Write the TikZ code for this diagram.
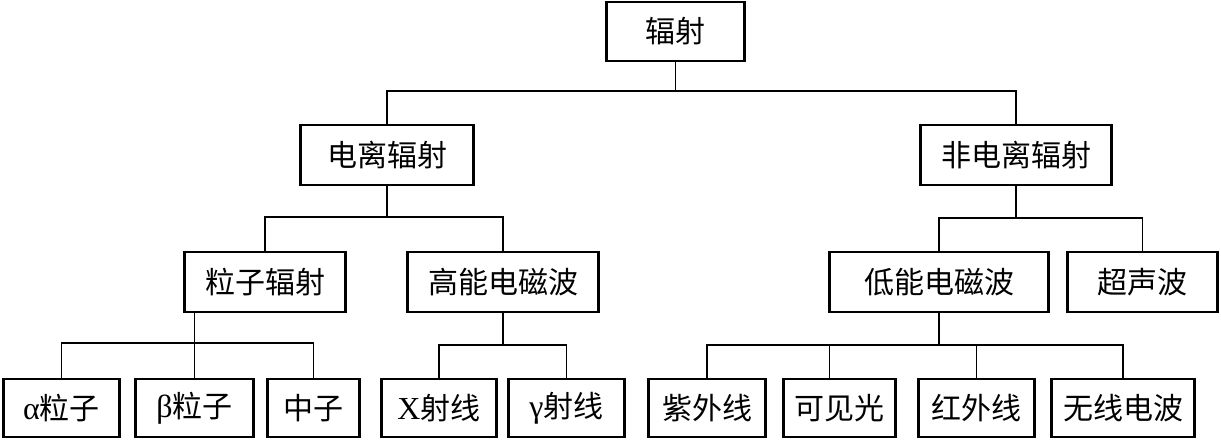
\documentclass[tikz,border=0pt]{standalone}
\usepackage{fontspec}
\setmainfont{Noto Sans CJK SC}
\newfontfamily\lat{Liberation Serif}
\begin{document}
\begin{tikzpicture}[x=1pt,y=-1pt,
  box/.style={draw=black,line width=2.7pt,rectangle,inner sep=0pt,align=center,
    font=\fontsize{30}{32}\selectfont},
  conn/.style={draw=black,line width=1.6pt}]
\useasboundingbox (0,0) rectangle (1221,440);
% level 0
\node[box,minimum width=138.5pt,minimum height=59pt] (root) at (675.5,31.5) {辐射};
% level 1
\node[box,minimum width=173.5pt,minimum height=60pt] (ion) at (387,155) {电离辐射};
\node[box,minimum width=191.5pt,minimum height=60pt] (nion) at (1016,155) {非电离辐射};
% level 2
\node[box,minimum width=161.5pt,minimum height=60pt] (pz) at (265,282) {粒子辐射};
\node[box,minimum width=191.5pt,minimum height=60pt] (hem) at (503,282) {高能电磁波};
\node[box,minimum width=219.5pt,minimum height=60pt] (lem) at (939,282) {低能电磁波};
\node[box,minimum width=150.5pt,minimum height=60pt] (us) at (1142.5,282) {超声波};
% level 3
\node[box,minimum width=116.5pt,minimum height=58pt] (alpha) at (61.5,408) {{\lat\fontsize{32}{32}\selectfont α}粒子};
\node[box,minimum width=118.5pt,minimum height=58pt] (beta) at (194.5,408) {{\lat\fontsize{32}{32}\selectfont β}粒子};
\node[box,minimum width=92.5pt,minimum height=58pt] (neu) at (313.5,408) {中子};
\node[box,minimum width=115.5pt,minimum height=58pt] (xr) at (439,408) {{\lat\fontsize{32}{32}\selectfont X}射线};
\node[box,minimum width=116.5pt,minimum height=58pt] (gr) at (566.5,408) {{\lat\fontsize{32}{32}\selectfont γ}射线};
\node[box,minimum width=117.5pt,minimum height=58pt] (uv) at (707,408) {紫外线};
\node[box,minimum width=112.5pt,minimum height=58pt] (vis) at (839.5,408) {可见光};
\node[box,minimum width=116.5pt,minimum height=58pt] (ir) at (976.5,408) {红外线};
\node[box,minimum width=143.5pt,minimum height=58pt] (radio) at (1123,408) {无线电波};
% junctions
\coordinate (j0) at (675.5,91);
\coordinate (j1) at (387,217);
\coordinate (j2) at (1016,218);
\coordinate (j3) at (194.5,343);
\coordinate (j4) at (503,345);
\coordinate (j5) at (939,345);
\coordinate (visstem) at ([xshift=-10pt]vis.north);
% connectors
\draw[conn] (root.south) -- (j0);
\draw[conn] (ion.north) |- (j0) -| (nion.north);
\draw[conn] (ion.south) -- (j1);
\draw[conn] (pz.north) |- (j1) -| (hem.north);
\draw[conn] (nion.south) -- (j2);
\draw[conn] (lem.north) |- (j2) -| (us.north);
\draw[conn] (pz.south -| j3) -- (beta.north);
\draw[conn] (alpha.north) |- (j3) -| (neu.north);
\draw[conn] (hem.south) -- (j4);
\draw[conn] (xr.north) |- (j4) -| (gr.north);
\draw[conn] (lem.south) -- (j5);
\draw[conn] (uv.north) |- (j5) -| (radio.north);
\draw[conn] (visstem) -- (visstem |- j5);
\draw[conn] (ir.north) -- (ir.north |- j5);
\end{tikzpicture}
\end{document}
